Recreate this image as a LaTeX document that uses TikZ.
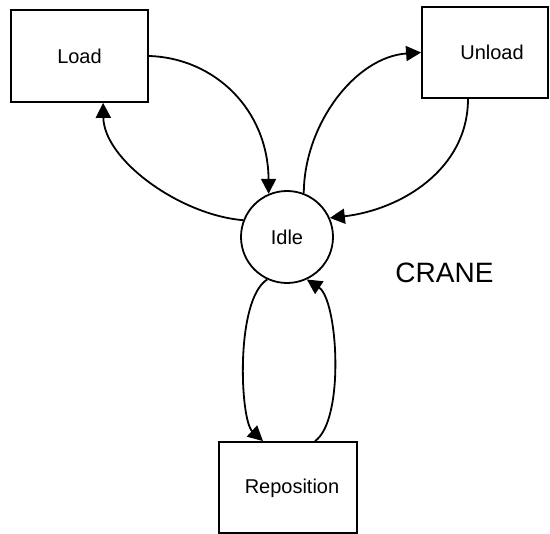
\documentclass[tikz,border=0pt]{standalone}
\usepackage{fontspec}
\setmainfont{Liberation Sans}
\usetikzlibrary{arrows.meta}

\tikzset{
  statebox/.style={draw, line width=1.8pt, minimum width=137pt, minimum height=92pt,
    inner sep=0pt, font=\fontsize{20}{24}\selectfont},
  statecircle/.style={draw, circle, line width=1.8pt, minimum size=92pt,
    inner sep=0pt, font=\fontsize{20}{24}\selectfont},
  flow/.style={line width=1.8pt, -{Triangle[length=15pt,width=15pt]}},
}

\begin{document}
\begin{tikzpicture}[x=1pt, y=-1pt]
  \useasboundingbox (0,0) rectangle (550,534);

  % states
  \node[statebox] (load) at (79.5,56) {Load};
  \node[statebox, minimum width=126pt, minimum height=91pt] (unload) at (485,52.5) {};
  \node[font=\fontsize{20}{24}\selectfont] (unloadtxt) at (492,52) {Unload};
  \node[statebox, minimum width=138pt, minimum height=91pt] (repos) at (288,487.5) {};
  \node[font=\fontsize{20}{24}\selectfont] (repostxt) at (292,488) {Reposition};
  \node[statecircle] (idle) at (287,237) {Idle};

  \node[font=\fontsize{28}{32}\selectfont] (crane) at (444.5,273) {CRANE};

  % transitions
  \draw[flow] (load.east) .. controls (215,58) and (268,110) .. (idle.113);
  \draw[flow] (idle.159) .. controls (180,215) and (104,160) .. ([xshift=93pt]load.south west);
  \draw[flow] (idle.69) .. controls (304,125) and (355,57) .. (unload.west);
  \draw[flow] ([xshift=-17pt]unload.south) .. controls (468,170) and (400,210) .. (idle.24);
  \draw[flow] (idle.245) .. controls (235,300) and (240,420) .. ([xshift=-25pt]repos.north);
  \draw[flow] ([xshift=27pt]repos.north) .. controls (345,420) and (338,300) .. (idle.295);
\end{tikzpicture}
\end{document}
